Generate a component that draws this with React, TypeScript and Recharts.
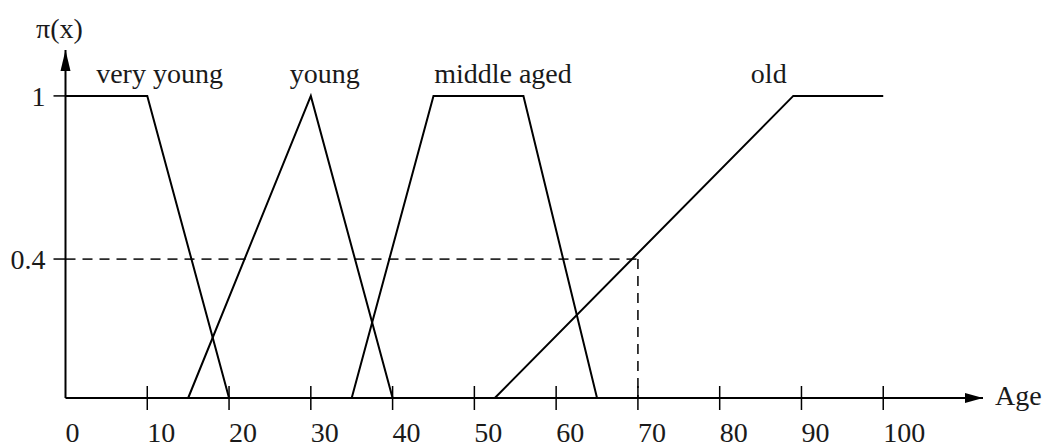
import React from 'react';
import { LineChart, Line, XAxis, YAxis, ReferenceLine, ReferenceDot } from 'recharts';

// Membership functions (age -> membership degree)
const veryYoungAge = [0, 10, 20];
const veryYoungMu = [1, 1, 0];
const youngAge = [15, 30, 40];
const youngMu = [0, 1, 0];
const middleAgedAge = [35, 45, 56, 65];
const middleAgedMu = [0, 1, 1, 0];
const oldAge = [52.5, 89, 100];
const oldMu = [0, 1, 1];

const seriesNames = ['very young', 'young', 'middle aged', 'old'];
const seriesLabelAge = [11.5, 31.7, 53.5, 86];

const xTicks = [0, 10, 20, 30, 40, 50, 60, 70, 80, 90, 100];
const yTicks = [0.46, 1];
const yTickLabels = ['0.4', '1'];

const cutAge = 70;
const cutLevel = 0.46;

const xMax = 112.2;
const yMax = 1.152;

const xAxisTitle = 'Age';
const yAxisTitle = 'π(x)';

const FONT = "'Liberation Serif', 'DejaVu Serif', serif";
const TEXT = '#1a1a1a';

const toPoints = (ages: number[], mus: number[]) => ages.map((a, i) => ({ age: a, mu: mus[i] }));

const series = [
  toPoints(veryYoungAge, veryYoungMu),
  toPoints(youngAge, youngMu),
  toPoints(middleAgedAge, middleAgedMu),
  toPoints(oldAge, oldMu),
];

const XTick = (props: any) => {
  const { x, y, payload } = props;
  return (
    <g>
      {payload.value !== 0 && (
        <line x1={x} y1={y - 12} x2={x} y2={y + 12} stroke="#000" strokeWidth={1.5} />
      )}
      <text x={x} y={y + 44} textAnchor="start" fontSize={28} fontFamily={FONT} fill={TEXT}>
        {payload.value}
      </text>
    </g>
  );
};

const UpArrow = (props: any) => {
  const { cx, cy } = props;
  return <path d={`M${cx},${cy} L${cx - 5},${cy + 21} L${cx + 5},${cy + 21} Z`} fill="#000" />;
};

const RightArrow = (props: any) => {
  const { cx, cy } = props;
  return <path d={`M${cx},${cy} L${cx - 18},${cy - 5} L${cx - 18},${cy + 5} Z`} fill="#000" />;
};

export default function App() {
  return (
    <div style={{ position: 'absolute', left: 0, top: 0, width: 1046, height: 448, background: '#fff' }}>
      <LineChart width={1046} height={448} margin={{ top: 50, right: 63, bottom: 0, left: 5.5 }}>
        <XAxis
          type="number"
          dataKey="age"
          domain={[0, xMax]}
          ticks={xTicks}
          interval={0}
          height={50}
          tickSize={0}
          tickMargin={0}
          tickLine={false}
          axisLine={{ stroke: '#000', strokeWidth: 2 }}
          tick={<XTick />}
        />
        <YAxis
          type="number"
          dataKey="mu"
          domain={[0, yMax]}
          ticks={yTicks}
          interval={0}
          width={60}
          tickSize={12}
          tickMargin={8}
          axisLine={{ stroke: '#000', strokeWidth: 2 }}
          tickLine={{ stroke: '#000', strokeWidth: 1.5 }}
          tick={{ fontSize: 28, fill: TEXT, fontFamily: FONT }}
          tickFormatter={(v: number) => yTickLabels[yTicks.indexOf(v)] ?? String(v)}
        />
        <ReferenceLine
          segment={[{ x: 0, y: cutLevel }, { x: cutAge, y: cutLevel }]}
          stroke="#2a2a2a"
          strokeWidth={1.8}
          strokeDasharray="10 7"
          ifOverflow="visible"
        />
        <ReferenceLine
          segment={[{ x: cutAge, y: cutLevel }, { x: cutAge, y: 0 }]}
          stroke="#2a2a2a"
          strokeWidth={1.8}
          strokeDasharray="10 7"
          ifOverflow="visible"
        />
        {series.map((pts, i) => (
          <Line
            key={seriesNames[i]}
            data={pts}
            dataKey="mu"
            name={seriesNames[i]}
            type="linear"
            stroke="#000"
            strokeWidth={2}
            dot={false}
            activeDot={false}
            isAnimationActive={false}
          />
        ))}
        {seriesNames.map((name, i) => (
          <ReferenceDot
            key={'lbl-' + name}
            x={seriesLabelAge[i]}
            y={1}
            r={0}
            fill="none"
            stroke="none"
            ifOverflow="visible"
            label={{ value: name, position: 'top', offset: 13, fontSize: 28, fill: TEXT, fontFamily: FONT }}
          />
        ))}
        <ReferenceDot
          x={0}
          y={yMax}
          r={0}
          ifOverflow="visible"
          shape={<UpArrow />}
          label={{ value: yAxisTitle, position: 'top', offset: 12, dx: -6, fontSize: 28, fill: TEXT, fontFamily: FONT }}
        />
        <ReferenceDot
          x={xMax}
          y={0}
          r={0}
          ifOverflow="visible"
          shape={<RightArrow />}
          label={{ value: xAxisTitle, position: 'right', offset: 12, dy: -3, fontSize: 28, fill: TEXT, fontFamily: FONT }}
        />
      </LineChart>
    </div>
  );
}
